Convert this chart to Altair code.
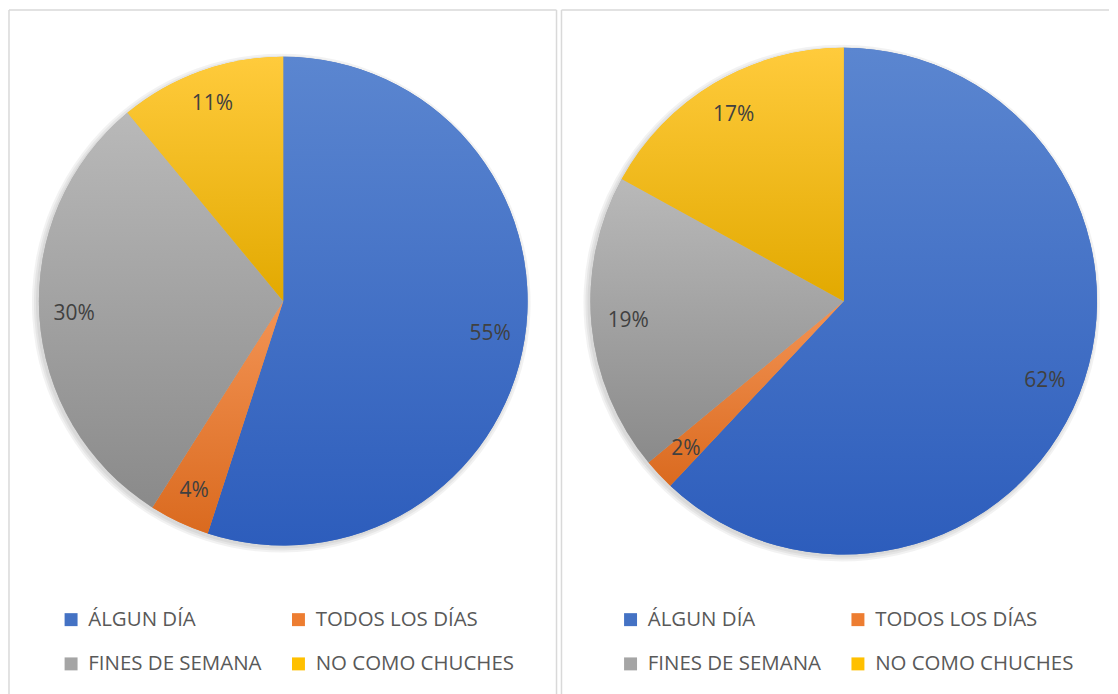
import altair as alt
import pandas as pd

categories = ["ÁLGUN DÍA", "TODOS LOS DÍAS", "FINES DE SEMANA", "NO COMO CHUCHES"]
left_values = [55, 4, 30, 11]
right_values = [62, 2, 19, 17]
colors = ["#4472C4", "#ED7D31", "#A5A5A5", "#FFC000"]
grad_top = ["#5B86D0", "#F39455", "#B9B9B9", "#FFCB3C"]
grad_bottom = ["#2D5DBC", "#DA6A1F", "#8A8A8A", "#E2A900"]

FONT = "Open Sans"
BORDER = "#d9d9d9"
PANEL_W = 549
PANEL_H = 686


def gradient(top, bottom):
    return {
        "gradient": "linear", "x1": 0, "y1": 0, "x2": 0, "y2": 1,
        "stops": [{"offset": 0, "color": top}, {"offset": 1, "color": bottom}],
    }


def gradient_fill():
    cond = alt.when(alt.datum.categoria == categories[0]).then(
        alt.value(gradient(grad_top[0], grad_bottom[0])))
    for i in range(1, len(categories) - 1):
        cond = cond.when(alt.datum.categoria == categories[i]).then(
            alt.value(gradient(grad_top[i], grad_bottom[i])))
    return cond.otherwise(alt.value(gradient(grad_top[-1], grad_bottom[-1])))


def panel(values, cx, cy, r, label_r, legend_x, right_border):
    df = pd.DataFrame({
        "categoria": categories,
        "valor": values,
        "orden": list(range(len(categories))),
    })
    base = alt.Chart(df).encode(
        theta=alt.Theta("valor:Q", stack=True),
        order=alt.Order("orden:Q"),
    )
    color = alt.Color(
        "categoria:N",
        scale=alt.Scale(domain=categories, range=colors),
        legend=alt.Legend(
            title=None, orient="none", legendX=legend_x, legendY=601,
            direction="horizontal", columns=2,
            symbolType="square", symbolSize=169, symbolStrokeWidth=0,
            labelFont=FONT, labelFontSize=20.5, labelColor="#595959",
            labelOffset=7, labelLimit=400, columnPadding=26, rowPadding=23.5,
        ),
    )
    shadows = [
        base.mark_arc(x=cx - 2, y=cy + 2, outerRadius=r + k, color="#000000",
                      opacity=0.05)
        for k in (1, 3, 5)
    ]
    arcs = base.mark_arc(x=cx, y=cy, outerRadius=r).encode(color=color)
    shade = base.mark_arc(x=cx, y=cy, outerRadius=r).encode(fill=gradient_fill())
    labels = base.transform_calculate(etiqueta="datum.valor + '%'").mark_text(
        x=cx, y=cy, radius=label_r, fontSize=21, font=FONT, color="#404040"
    ).encode(text="etiqueta:N")

    edge = pd.DataFrame({"k": [0]})
    left_rule = alt.Chart(edge).mark_rule(color=BORDER, strokeWidth=1.5).encode(x=alt.value(0))
    top_rule = alt.Chart(edge).mark_rule(color=BORDER, strokeWidth=1.5).encode(y=alt.value(0))
    layers = [left_rule, top_rule] + shadows + [arcs, shade, labels]
    if right_border:
        layers.append(alt.Chart(edge).mark_rule(color=BORDER, strokeWidth=1.5).encode(x=alt.value(PANEL_W)))
    return alt.layer(*layers).properties(width=PANEL_W, height=PANEL_H)


left = panel(left_values, 275, 292, 245, 210, 52, True)
right = panel(right_values, 283, 292, 254, 217, 59, False)

chart = alt.hconcat(left, right, spacing=3).resolve_scale(
    color="independent", theta="independent"
).resolve_legend(color="independent").properties(padding=0).configure_view(stroke=None)

chart.save("out.html", embed_options={"renderer": "svg", "actions": False})
